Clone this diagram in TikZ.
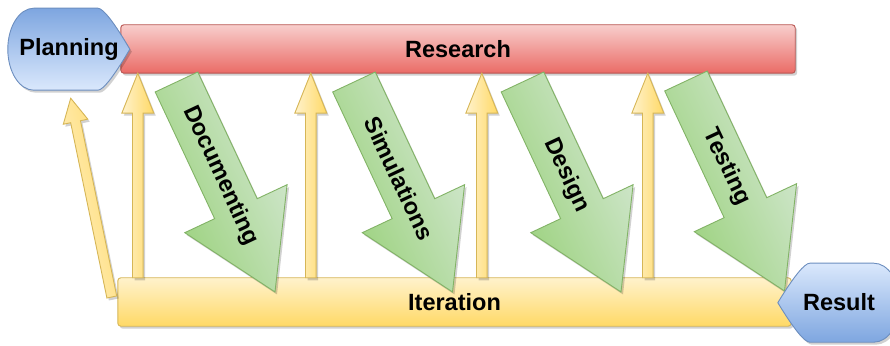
\documentclass[tikz,border=0pt]{standalone}
\usepackage{fontspec}
\setmainfont{Liberation Sans}
\usetikzlibrary{calc}

\definecolor{redfill}{HTML}{F8CECC}
\definecolor{redgrad}{HTML}{EA6B66}
\definecolor{redline}{HTML}{B85450}
\definecolor{yelfill}{HTML}{FFF2CC}
\definecolor{yelgrad}{HTML}{FFD966}
\definecolor{yelline}{HTML}{D6B656}
\definecolor{bluefill}{HTML}{DAE8FC}
\definecolor{bluegrad}{HTML}{7EA6E0}
\definecolor{blueline}{HTML}{6C8EBF}
\definecolor{grnfill}{HTML}{D5E8D4}
\definecolor{grngrad}{HTML}{97D077}
\definecolor{grnline}{HTML}{82B366}

\pgfdeclarelayer{bg}
\pgfsetlayers{bg,main}

\tikzset{
  lbl/.style={font=\fontsize{23.5}{28}\selectfont\bfseries, inner sep=0pt, text=black},
  shadowfill/.style={fill=black, opacity=0.18},
  redbar/.style={draw=redline, line width=0.9pt, top color=redfill, bottom color=redgrad},
  yelbar/.style={draw=yelline, line width=0.9pt, top color=yelfill, bottom color=yelgrad},
  yelarrow/.style={draw=yelline, line width=0.9pt, top color=yelfill, bottom color=yelgrad},
  grnarrow/.style={draw=grnline, line width=0.9pt, top color=grnfill, bottom color=grngrad},
  bluedown/.style={draw=blueline, line width=0.9pt, top color=bluefill, bottom color=bluegrad},
  blueup/.style={draw=blueline, line width=0.9pt, top color=bluegrad, bottom color=bluefill},
}

% outline of a block arrow along +x, length \balen
% #1 half shaft width, #2 half head width, #3 head length
\newcommand\arrowoutline[3]{%
  (0,-#1) -- ({\balen-#3},-#1) -- ({\balen-#3},-#2) -- (\balen,0)
  -- ({\balen-#3},#2) -- ({\balen-#3},#1) -- (0,#1) -- cycle}

% block arrow from #2 to #3 with style #1; the gradient runs across the arrow
\newcommand\blockarrow[6]{%
  \path let \p1=(#2), \p2=(#3) in \pgfextra{%
    \pgfmathsetmacro\tmpx{\x1}\pgfmathsetmacro\tmpy{\y1}%
    \pgfmathsetmacro\tmpa{atan2(\y2-\y1,\x2-\x1)}%
    \pgfmathsetmacro\tmpl{veclen(\x2-\x1,\y2-\y1)}%
    \global\let\bax\tmpx \global\let\bay\tmpy
    \global\let\baang\tmpa \global\let\balen\tmpl};
  \fill[shadowfill, shift={(\bax+2,\bay-2.5)}, rotate=\baang] \arrowoutline{#4}{#5}{#6};
  \path[#1, shading angle=\baang, shift={(\bax,\bay)}, rotate=\baang] \arrowoutline{#4}{#5}{#6};
}

% display shapes in local coordinates
\def\planpath{(26,82) -- (90,82) .. controls (95.3,82) and (106,68.3) .. (122,41)
  .. controls (106,13.7) and (95.3,0) .. (90,0) -- (26,0)
  arc[start angle=270, end angle=90, x radius=26, y radius=41] -- cycle}
\def\resultpath{(0,39.5) .. controls (16,65.8) and (26.7,79) .. (32,79) -- (96,79)
  arc[start angle=90, end angle=-90, x radius=26, y radius=39.5] -- (32,0)
  .. controls (26.7,0) and (16,13.2) .. (0,39.5) -- cycle}

\begin{document}
\begin{tikzpicture}[x=1pt,y=1pt]
\useasboundingbox (0,0) rectangle (890,345);

% boxes and their labels
\node[lbl, minimum width=674pt, minimum height=48pt] (Research) at (458,296) {Research};
\node[lbl, minimum width=673pt, minimum height=48pt] (Iteration) at (454.5,43) {Iteration};
\node[lbl, minimum width=122pt, minimum height=82pt] (Planning) at (69,296) {Planning};
\node[lbl, minimum width=122pt, minimum height=79pt] (Result) at (839,42.5) {Result};

% ends of the upward feedback arrows
\coordinate (u1a) at ($(Iteration.north west)+(20,0)$);
\coordinate (u1b) at ($(Research.south west)+(17,0)$);
\coordinate (u2a) at ($(Iteration.north west)+(193,0)$);
\coordinate (u2b) at ($(Research.south west)+(190,0)$);
\coordinate (u3a) at ($(Iteration.north west)+(364,0)$);
\coordinate (u3b) at ($(Research.south west)+(361,0)$);
\coordinate (u4a) at ($(Iteration.north west)+(530,0)$);
\coordinate (u4b) at ($(Research.south west)+(527,0)$);
\coordinate (fa) at ($(Iteration.west)+(-6,5)$);
\coordinate (fb) at ($(Planning.south)+(1.7,-8)$);

% ends of the downward work arrows
\coordinate (d1a) at (176.5,263); \coordinate (d1b) at (275,53);
\coordinate (d2a) at (354,263);   \coordinate (d2b) at (452.5,53);
\coordinate (d3a) at (522.5,263); \coordinate (d3b) at (621,53);
\coordinate (d4a) at (686,264);   \coordinate (d4b) at (784.5,54);

\begin{pgfonlayer}{bg}
  % bars
  \fill[shadowfill, rounded corners=3pt] ([shift={(2,-2.5)}]Research.south west) rectangle ([shift={(2,-2.5)}]Research.north east);
  \path[redbar, rounded corners=3pt] (Research.south west) rectangle (Research.north east);
  \fill[shadowfill, rounded corners=3pt] ([shift={(2,-2.5)}]Iteration.south west) rectangle ([shift={(2,-2.5)}]Iteration.north east);
  \path[yelbar, rounded corners=3pt] (Iteration.south west) rectangle (Iteration.north east);

  % feedback arrows
  \blockarrow{yelarrow}{u1a}{u1b}{5.3}{16}{40}
  \blockarrow{yelarrow}{u2a}{u2b}{5.3}{16}{40}
  \blockarrow{yelarrow}{u3a}{u3b}{5.3}{16}{40}
  \blockarrow{yelarrow}{u4a}{u4b}{5.3}{16}{40}
  \blockarrow{yelarrow}{fa}{fb}{5}{12.5}{24}

  % work arrows
  \blockarrow{grnarrow}{d1a}{d1b}{23.5}{56.5}{92}
  \blockarrow{grnarrow}{d2a}{d2b}{23.5}{56.5}{92}
  \blockarrow{grnarrow}{d3a}{d3b}{23.5}{56.5}{92}
  \blockarrow{grnarrow}{d4a}{d4b}{23.5}{56.5}{92}

  % start and end shapes
  \begin{scope}[shift={(Planning.south west)}]
    \fill[shadowfill, shift={(2,-2.5)}] \planpath;
    \path[blueup] \planpath;
  \end{scope}
  \begin{scope}[shift={(Result.south west)}]
    \fill[shadowfill, shift={(2,-2.5)}] \resultpath;
    \path[bluedown] \resultpath;
  \end{scope}
\end{pgfonlayer}

% labels on the work arrows
\path (d1a) -- (d1b) node[lbl, sloped, pos=.447] (tDoc) {Documenting};
\path (d2a) -- (d2b) node[lbl, sloped, pos=.46] (tSim) {Simulations};
\path (d3a) -- (d3b) node[lbl, sloped, pos=.445] (tDes) {Design};
\path (d4a) -- (d4b) node[lbl, sloped, pos=.41] (tTest) {Testing};
\end{tikzpicture}
\end{document}
